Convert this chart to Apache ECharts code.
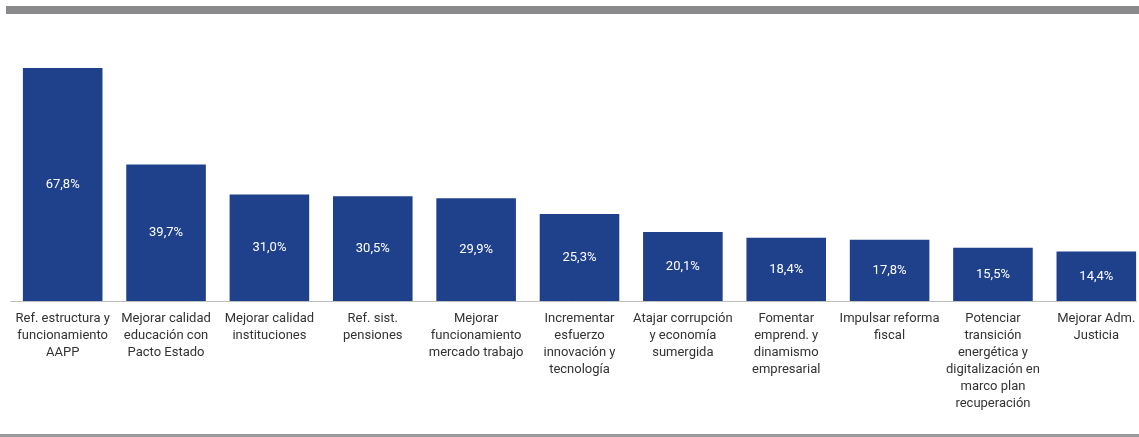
<!DOCTYPE html>
<html>
<head>
<meta charset="utf-8">
<script src="https://cdn.jsdelivr.net/npm/echarts@6/dist/echarts.min.js"></script>
<style>
  html, body { margin: 0; padding: 0; background: #fff; }
  #chart { width: 1139px; height: 437px; }
</style>
</head>
<body>
<div id="chart"></div>
<script>
var categories = [
  "Ref. estructura y\nfuncionamiento\nAAPP",
  "Mejorar calidad\neducación con\nPacto Estado",
  "Mejorar calidad\ninstituciones",
  "Ref. sist.\npensiones",
  "Mejorar\nfuncionamiento\nmercado trabajo",
  "Incrementar\nesfuerzo\ninnovación y\ntecnología",
  "Atajar corrupción\ny economía\nsumergida",
  "Fomentar\nemprend. y\ndinamismo\nempresarial",
  "Impulsar reforma\nfiscal",
  "Potenciar\ntransición\nenergética y\ndigitalización en\nmarco plan\nrecuperación",
  "Mejorar Adm.\nJusticia"
];
var values = [67.8, 39.7, 31.0, 30.5, 29.9, 25.3, 20.1, 18.4, 17.8, 15.5, 14.4];

var chart = echarts.init(document.getElementById("chart"));
var option = {
  animation: false,
  grid: { left: 11, width: 1137, top: 26, height: 275, containLabel: false, outerBoundsMode: "none" },
  graphic: [
    { type: "rect", shape: { x: 6, y: 6, width: 1133, height: 8 }, style: { fill: "#8a8a8c" } },
    { type: "rect", shape: { x: 0, y: 434, width: 1139, height: 3 }, style: { fill: "#9a9a9c" } },
    { type: "rect", shape: { x: 1137, y: 298, width: 2, height: 6 }, style: { fill: "#fff" }, z: 100 }
  ],
  xAxis: {
    type: "category",
    data: categories,
    axisLine: { lineStyle: { color: "#bdbdbd", width: 1 } },
    axisTick: { show: false },
    axisLabel: {
      interval: 0,
      color: "#333",
      fontFamily: "Roboto",
      fontSize: 13,
      lineHeight: 17,
      margin: 9
    }
  },
  yAxis: {
    type: "value",
    min: 0,
    max: 80,
    show: false,
    splitLine: { show: false }
  },
  series: [{
    type: "bar",
    data: values,
    barCategoryGap: "23%",
    itemStyle: { color: "#1f418c" },
    label: {
      show: true,
      position: "inside",
      color: "#fff",
      fontFamily: "Roboto",
      fontSize: 13,
      formatter: function (p) { return p.value.toFixed(1).replace(".", ",") + "%"; }
    }
  }]
};
chart.setOption(option);
</script>
</body>
</html>
